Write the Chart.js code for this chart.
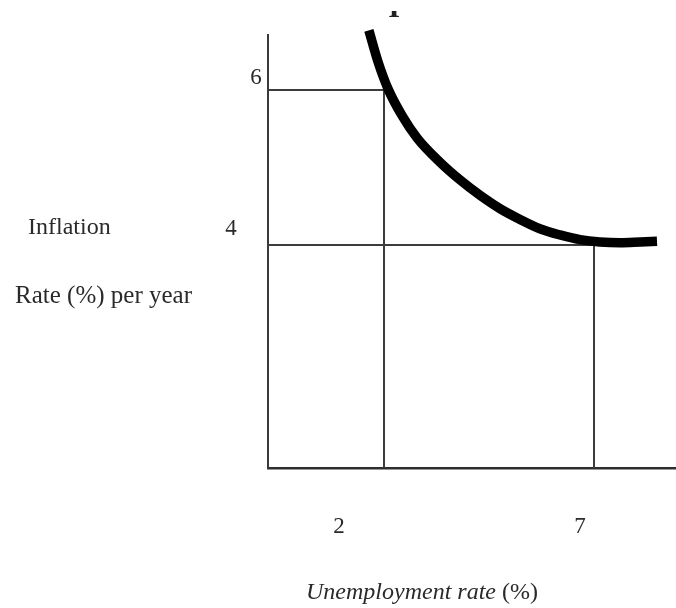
<!DOCTYPE html>
<html>
<head>
<meta charset="utf-8">
<script src="https://cdn.jsdelivr.net/npm/chart.js@4/dist/chart.umd.min.js"></script>
<style>
  html, body { margin: 0; padding: 0; background: #ffffff; }
  #wrap { width: 676px; height: 608px; }
</style>
</head>
<body>
<div id="wrap"><canvas id="c" width="676" height="608"></canvas></div>
<script>
// ---- data ----
const curveX = [1.64, 1.86, 2.10, 2.43, 2.79, 3.33, 3.81, 4.29, 4.76, 5.24, 5.71, 6.19, 6.67, 7.14, 7.62, 8.10, 8.50];
const curveY = [6.77, 6.36, 6.01, 5.67, 5.38, 5.07, 4.84, 4.64, 4.47, 4.33, 4.21, 4.13, 4.07, 4.04, 4.03, 4.04, 4.05];
const markX = [2, 7];            // unemployment rates marked
const markY = [6, 4];            // inflation rates marked
const xTickLabels = ["2", "7"];
const yTickLabels = ["6", "4"];
const yTitleLines = ["Inflation", "Rate (%) per year"];
const xTitleItalic = "Unemployment rate";
const xTitleRegular = " (%)";
const curveTag = "I";

const X_MIN = -0.762, X_MAX = 8.952, Y_MIN = 1.123, Y_MAX = 6.71;

const curveData = curveX.map((x, i) => ({ x: x, y: curveY[i] }));
const guide = (i) => [
  { x: X_MIN, y: markY[i] },
  { x: markX[i], y: markY[i] },
  { x: markX[i], y: Y_MIN }
];

const FONT = '"Liberation Serif", "Times New Roman", serif';

const textPlugin = {
  id: 'texts',
  afterDraw(chart) {
    const ctx = chart.ctx;
    const xs = chart.scales.x, ys = chart.scales.y;
    ctx.save();
    ctx.fillStyle = '#2a2a2a';
    ctx.textBaseline = 'middle';
    ctx.font = '23px ' + FONT;
    ctx.textAlign = 'center';
    // y tick labels (offset as in the original drawing)
    const yOff = [[-12, -12], [-37, -16]];
    markY.forEach((v, i) => {
      ctx.fillText(yTickLabels[i], xs.left + yOff[i][0], ys.getPixelForValue(v) + yOff[i][1]);
    });
    // x tick labels
    const xOff = [-45, -14];
    markX.forEach((v, i) => {
      ctx.fillText(xTickLabels[i], xs.getPixelForValue(v) + xOff[i], ys.bottom + 59);
    });
    // y axis title (two lines, left side)
    ctx.textAlign = 'left';
    ctx.font = '24px ' + FONT;
    ctx.fillText(yTitleLines[0], 28, 228);
    ctx.font = '25px ' + FONT;
    ctx.fillText(yTitleLines[1], 15, 296);
    // x axis title
    ctx.font = 'italic 24px ' + FONT;
    const w1 = ctx.measureText(xTitleItalic).width;
    ctx.font = '24px ' + FONT;
    const w2 = ctx.measureText(xTitleRegular).width;
    const x0 = 422 - (w1 + w2) / 2;
    ctx.font = 'italic 24px ' + FONT;
    ctx.fillText(xTitleItalic, x0, 593);
    ctx.font = '24px ' + FONT;
    ctx.fillText(xTitleRegular, x0 + w1, 593);
    // partly cut-off curve tag at top
    ctx.beginPath();
    ctx.rect(385, 11, 20, 7);
    ctx.clip();
    ctx.font = 'bold 30px ' + FONT;
    ctx.textAlign = 'center';
    ctx.textBaseline = 'alphabetic';
    ctx.fillStyle = '#222';
    ctx.fillText(curveTag, 394, 17);
    ctx.restore();
  }
};

new Chart(document.getElementById('c'), {
  type: 'scatter',
  data: {
    datasets: [
      {
        data: guide(0), showLine: true, borderColor: '#3c3c3c', borderWidth: 2,
        pointRadius: 0, tension: 0, clip: false, order: 2
      },
      {
        data: guide(1), showLine: true, borderColor: '#3c3c3c', borderWidth: 2,
        pointRadius: 0, tension: 0, clip: false, order: 2
      },
      {
        data: curveData, showLine: true, borderColor: '#000000', borderWidth: 9.5,
        pointRadius: 0, cubicInterpolationMode: 'monotone', borderCapStyle: 'butt', borderJoinStyle: 'round',
        clip: false, order: 1
      }
    ]
  },
  options: {
    responsive: false,
    animation: false,
    devicePixelRatio: 1,
    layout: { padding: { left: 268, top: 35, right: 0, bottom: 140 } },
    plugins: { legend: { display: false }, tooltip: { enabled: false } },
    scales: {
      x: {
        type: 'linear', min: X_MIN, max: X_MAX,
        grid: { display: false, drawTicks: false },
        border: { display: true, color: '#2e2e2e', width: 2.5 },
        ticks: { display: false }
      },
      y: {
        type: 'linear', min: Y_MIN, max: Y_MAX,
        grid: { display: false, drawTicks: false },
        border: { display: true, color: '#3a3a3a', width: 2 },
        ticks: { display: false }
      }
    }
  },
  plugins: [textPlugin]
});
</script>
</body>
</html>
